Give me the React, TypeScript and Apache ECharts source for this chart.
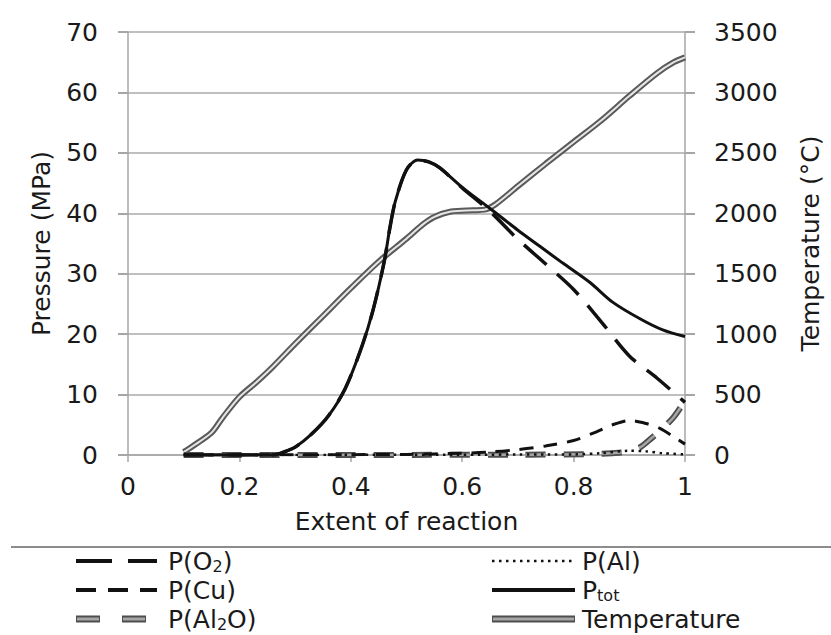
import React, { useEffect, useRef } from "react";
import * as echarts from "echarts";

// ---- data ----
const xTicks = [0, 0.2, 0.4, 0.6, 0.8, 1];

const xTemp = [0.10, 0.12, 0.15, 0.17, 0.20, 0.23, 0.26, 0.30, 0.35, 0.40, 0.45, 0.50, 0.53, 0.55, 0.58, 0.62, 0.64, 0.66, 0.70, 0.75, 0.80, 0.85, 0.90, 0.95, 0.98, 1.00];
const temperature = [25, 85, 185, 310, 480, 600, 730, 920, 1150, 1380, 1600, 1790, 1910, 1970, 2015, 2025, 2030, 2075, 2225, 2410, 2590, 2770, 2970, 3160, 3250, 3290];

const xPtot = [0.10, 0.20, 0.26, 0.28, 0.30, 0.33, 0.36, 0.39, 0.42, 0.44, 0.46, 0.47, 0.48, 0.50, 0.52, 0.54, 0.56, 0.60, 0.65, 0.70, 0.74, 0.78, 0.83, 0.87, 0.92, 0.96, 1.00];
const pTot = [0, 0, 0, 0.5, 1.3, 3.5, 6.5, 11, 18, 24, 32, 37.5, 42, 47.2, 48.8, 48.5, 47.5, 44.3, 40.8, 37.2, 34.5, 31.8, 28.5, 25.3, 22.5, 20.7, 19.6];

const xO2 = [0.10, 0.26, 0.28, 0.30, 0.33, 0.36, 0.39, 0.42, 0.44, 0.46, 0.47, 0.48, 0.50, 0.52, 0.54, 0.56, 0.60, 0.65, 0.70, 0.75, 0.80, 0.85, 0.90, 0.95, 1.00];
const pO2 = [0, 0, 0.5, 1.3, 3.5, 6.5, 11, 18, 24, 32, 37.5, 42, 47.2, 48.8, 48.5, 47.5, 44.2, 40.3, 35.7, 31.6, 27.4, 22.0, 16.4, 12.7, 8.7];

const xCu = [0.10, 0.50, 0.60, 0.65, 0.70, 0.75, 0.80, 0.84, 0.87, 0.90, 0.93, 0.955, 0.98, 1.00];
const pCu = [0, 0.1, 0.3, 0.5, 0.9, 1.5, 2.4, 3.8, 5.0, 5.7, 5.2, 4.4, 3.0, 1.8];

const xAl2O = [0.10, 0.70, 0.85, 0.90, 0.92, 0.94, 0.96, 0.98, 1.00];
const pAl2O = [0, 0.05, 0.2, 0.6, 1.3, 2.8, 4.4, 6.3, 9.0];

const xAl = [0.10, 0.80, 0.85, 0.90, 0.93, 0.96, 1.00];
const pAl = [0, 0.1, 0.3, 0.7, 0.6, 0.3, 0.1];

const legendLabels = ["P(O{s|2})", "P(Cu)", "P(Al{s|2}O)", "P(Al)", "P{t|tot}", "Temperature"];

const pair = (xs: number[], ys: number[]) => xs.map((x, i) => [x, ys[i]]);

const FONT = "DejaVu Sans";
const TXT = "#1a1a1a";
const AXIS = "#a6a6a6";

export default function App() {
  const ref = useRef<HTMLDivElement>(null);
  useEffect(() => {
    if (!ref.current) return;
    const chart = echarts.init(ref.current, null, { renderer: "svg" });

    const line = (name: string, data: number[][], color: string, width: number, type: any, yAxisIndex = 0, z = 2) => ({
      type: "line",
      name,
      data,
      yAxisIndex,
      symbol: "none",
      smooth: 0.3,
      z,
      lineStyle: { color, width, type, cap: "butt" },
      emphasis: { disabled: true },
    });

    const textStyle = {
      fontFamily: FONT,
      fontSize: 25,
      lineHeight: 26,
      fill: TXT,
      verticalAlign: "middle",
      rich: {
        s: { fontFamily: FONT, fontSize: 16, lineHeight: 18, fill: TXT, padding: [10, 0, 0, 0] },
        t: { fontFamily: FONT, fontSize: 16, lineHeight: 18, fill: TXT, padding: [11, 0, 0, 0] },
      },
    };

    const rows = [561, 590, 619];
    const graphic: any[] = [
      { type: "line", shape: { x1: 11, y1: 547, x2: 831, y2: 547 }, style: { stroke: "#8c8c8c", lineWidth: 2 } },
      // left column
      { type: "line", shape: { x1: 76, y1: rows[0], x2: 157, y2: rows[0] }, style: { stroke: "#111", lineWidth: 4, lineDash: [36, 16] } },
      { type: "text", x: 168, y: rows[0], style: { ...textStyle, text: legendLabels[0] } },
      { type: "line", shape: { x1: 76, y1: rows[1], x2: 157, y2: rows[1] }, style: { stroke: "#111", lineWidth: 4, lineDash: [20, 12] } },
      { type: "text", x: 168, y: rows[1], style: { ...textStyle, text: legendLabels[1] } },
      { type: "line", shape: { x1: 76, y1: rows[2], x2: 146, y2: rows[2] }, style: { stroke: "#4d4d4d", lineWidth: 7, lineDash: [24, 22] } },
      { type: "line", shape: { x1: 77, y1: rows[2], x2: 145, y2: rows[2] }, style: { stroke: "#a6a6a6", lineWidth: 3, lineDash: [22, 24] } },
      { type: "text", x: 168, y: rows[2], style: { ...textStyle, text: legendLabels[2] } },
      // right column
      { type: "line", shape: { x1: 492, y1: rows[0], x2: 575, y2: rows[0] }, style: { stroke: "#111", lineWidth: 2.5, lineDash: [2.5, 4.5] } },
      { type: "text", x: 582, y: rows[0], style: { ...textStyle, text: legendLabels[3] } },
      { type: "line", shape: { x1: 492, y1: rows[1], x2: 575, y2: rows[1] }, style: { stroke: "#111", lineWidth: 4 } },
      { type: "text", x: 582, y: rows[1], style: { ...textStyle, text: legendLabels[4] } },
      { type: "line", shape: { x1: 492, y1: rows[2], x2: 575, y2: rows[2] }, style: { stroke: "#4d4d4d", lineWidth: 7 } },
      { type: "line", shape: { x1: 493, y1: rows[2], x2: 574, y2: rows[2] }, style: { stroke: "#a6a6a6", lineWidth: 3 } },
      { type: "text", x: 582, y: rows[2], style: { ...textStyle, text: legendLabels[5] } },
    ];

    const option: any = {
      animation: false,
      backgroundColor: "#ffffff",
      grid: { left: 128, right: 138, top: 32, bottom: 180, containLabel: false },
      xAxis: {
        type: "value",
        min: xTicks[0],
        max: xTicks[xTicks.length - 1],
        interval: 0.2,
        name: "Extent of reaction",
        nameLocation: "middle",
        nameGap: 54,
        nameTextStyle: { fontFamily: FONT, fontSize: 25, color: TXT },
        axisLine: { show: true, lineStyle: { color: AXIS, width: 1.5 } },
        axisTick: { show: true, length: 7, lineStyle: { color: AXIS, width: 1.5 } },
        splitLine: { show: false },
        axisLabel: { fontFamily: FONT, fontSize: 25, color: TXT, margin: 19 },
      },
      yAxis: [
        {
          type: "value",
          min: 0,
          max: 70,
          interval: 10,
          name: "Pressure (MPa)",
          nameLocation: "middle",
          nameRotate: 90,
          nameGap: 74,
          nameTextStyle: { fontFamily: FONT, fontSize: 25, color: TXT },
          axisLine: { show: true, lineStyle: { color: AXIS, width: 1.5 } },
          axisTick: { show: true, length: 10, lineStyle: { color: AXIS, width: 2 } },
          splitLine: { show: true, lineStyle: { color: "#bfbfbf", width: 2 } },
          axisLabel: { fontFamily: FONT, fontSize: 25, color: TXT, margin: 30 },
        },
        {
          type: "value",
          min: 0,
          max: 3500,
          interval: 500,
          position: "right",
          name: "Temperature (°C)",
          nameLocation: "middle",
          nameRotate: 90,
          nameGap: 113,
          nameTextStyle: { fontFamily: FONT, fontSize: 25, color: TXT },
          axisLine: { show: true, lineStyle: { color: AXIS, width: 1.5 } },
          axisTick: { show: true, length: 10, lineStyle: { color: AXIS, width: 2 } },
          splitLine: { show: false },
          axisLabel: { fontFamily: FONT, fontSize: 25, color: TXT, margin: 29, formatter: (v: number) => String(v) },
        },
      ],
      graphic,
      series: [
        line("Temperature", pair(xTemp, temperature), "#5a5a5a", 6, "solid", 1, 2),
        line("Temperature inner", pair(xTemp, temperature), "#e6e6e6", 2, "solid", 1, 3),
        line("P(Al2O)", pair(xAl2O, pAl2O), "#4d4d4d", 6, [20, 18], 0, 4),
        line("P(Al2O) inner", pair(xAl2O, pAl2O), "#a6a6a6", 2.5, [20, 18], 0, 5),
        line("P(Al)", pair(xAl, pAl), "#111111", 2.5, [2.5, 4.5], 0, 6),
        line("P(Cu)", pair(xCu, pCu), "#111111", 3, [14, 10], 0, 6),
        line("P(O2)", pair(xO2, pO2), "#111111", 3.5, [30, 14], 0, 7),
        line("Ptot", pair(xPtot, pTot), "#111111", 3, "solid", 0, 8),
      ],
    };
    chart.setOption(option);
    return () => chart.dispose();
  }, []);

  return (
    <div
      ref={ref}
      style={{ position: "fixed", left: 0, top: 0, width: 831, height: 635, background: "#fff" }}
    />
  );
}
